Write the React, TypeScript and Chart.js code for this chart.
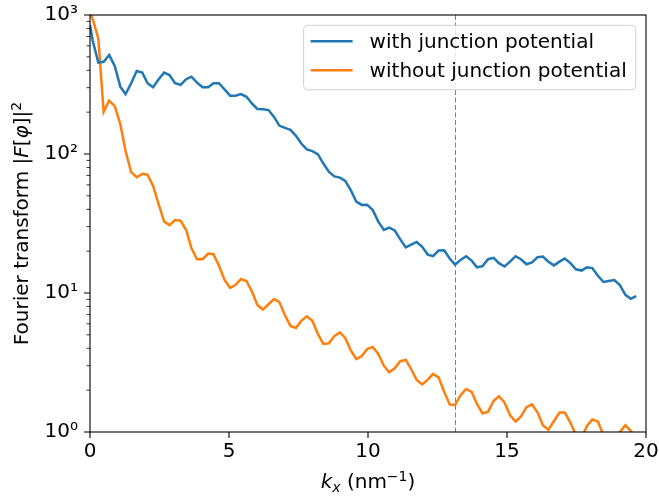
import React, { useEffect, useRef } from "react";
import { Chart, registerables } from "chart.js";

Chart.register(...registerables);

// k_x grid (nm^-1)
const KX = [
  0, 0.1, 0.3, 0.49, 0.69, 0.89, 1.09, 1.28, 1.48, 1.68, 1.88,
  2.07, 2.27, 2.47, 2.67, 2.86, 3.06, 3.26, 3.46, 3.65, 3.85,
  4.05, 4.25, 4.44, 4.64, 4.84, 5.04, 5.23, 5.43, 5.63, 5.83,
  6.02, 6.22, 6.42, 6.62, 6.81, 7.01, 7.21, 7.41, 7.6, 7.8,
  8.0, 8.2, 8.39, 8.59, 8.79, 8.99, 9.18, 9.38, 9.58, 9.78,
  9.97, 10.17, 10.37, 10.57, 10.76, 10.96, 11.16, 11.36, 11.55, 11.75,
  11.95, 12.15, 12.34, 12.54, 12.74, 12.94, 13.13, 13.33, 13.53, 13.73,
  13.92, 14.12, 14.32, 14.52, 14.71, 14.91, 15.11, 15.31, 15.5, 15.7,
  15.9, 16.1, 16.29, 16.49, 16.69, 16.89, 17.08, 17.28, 17.48, 17.68,
  17.87, 18.07, 18.27, 18.47, 18.66, 18.86, 19.06, 19.26, 19.45, 19.65,
];

const WITH_JP = [
  848, 650, 454, 461, 515, 430, 305, 270, 323, 395, 385,
  323, 302, 345, 385, 370, 323, 314, 345, 360, 326,
  302, 302, 323, 323, 292, 263, 263, 270, 258, 230,
  211, 210, 207, 185, 160, 154, 149, 135, 119, 108,
  105, 99.5, 85.7, 74.6, 69, 67.6, 64, 55, 45.4, 43,
  43.2, 39.5, 32.6, 28.4, 29.5, 28.2, 24.3, 21.3, 22.3, 23.3,
  21.5, 18.9, 18.4, 20.2, 20.3, 17.7, 16.0, 17.3, 18.4, 17.1,
  15.3, 15.6, 17.5, 17.9, 16.4, 15.5, 16.8, 18.4, 17.5, 16.1,
  16.6, 18.1, 18.3, 16.8, 15.8, 16.8, 17.7, 16.4, 14.8, 14.5,
  15.3, 15.1, 13.3, 12.0, 12.2, 12.4, 11.4, 9.7, 9.1, 9.5,
];

const WITHOUT_JP = [
  1050, 931, 679, 201, 242, 221, 164, 105, 74, 68, 72,
  71, 59, 43.5, 32.6, 30.8, 33.5, 33.1, 28.4, 21, 17.5,
  17.5, 19.2, 19, 15.7, 12.4, 10.9, 11.4, 12.6, 12.2, 10.2,
  8.2, 7.6, 8.3, 9.05, 8.6, 6.95, 5.8, 5.6, 6.3, 6.8,
  6.3, 5.07, 4.3, 4.35, 4.9, 5.2, 4.75, 3.87, 3.35, 3.52,
  3.95, 4.09, 3.64, 3.0, 2.69, 2.87, 3.23, 3.3, 2.84, 2.37,
  2.2, 2.38, 2.62, 2.47, 1.95, 1.58, 1.56, 1.84, 2.04, 1.94,
  1.59, 1.36, 1.4, 1.68, 1.81, 1.63, 1.32, 1.19, 1.29, 1.51,
  1.58, 1.38, 1.12, 1.04, 1.2, 1.38, 1.38, 1.17, 0.95, 0.9,
  1.1, 1.23, 1.19, 0.95, 0.85, 0.9, 1.0, 1.12, 1.02, 0.9,
];

const SERIES_LABELS = ["with junction potential", "without junction potential"];
const SERIES_COLORS = ["#1f77b4", "#ff7f0e"];
const X_TICKS = [0, 5, 10, 15, 20];
const Y_DECADES = [1, 10, 100, 1000];
const Y_TICK_LABELS = ["10⁰", "10¹", "10²", "10³"];
const CUTOFF_K = 13.13;

const FAMILY = '"DejaVu Sans"';
const FS = 20;
const LW = 2.5;

type Part = { t: string; italic?: boolean; sup?: boolean; sub?: boolean };

const Y_TITLE: Part[] = [
  { t: "Fourier transform |" },
  { t: "F", italic: true },
  { t: "[" },
  { t: "φ", italic: true },
  { t: "]|" },
  { t: "2", sup: true },
];
const X_TITLE: Part[] = [
  { t: "k", italic: true },
  { t: "x", italic: true, sub: true },
  { t: " (nm" },
  { t: "−1", sup: true },
  { t: ")" },
];

function partFont(p: Part) {
  const size = p.sup || p.sub ? FS * 0.7 : FS;
  return `${p.italic ? "italic " : ""}${size}px ${FAMILY}`;
}

function drawParts(ctx: CanvasRenderingContext2D, parts: Part[], cx: number, baseline: number) {
  const widths = parts.map((p) => {
    ctx.font = partFont(p);
    return ctx.measureText(p.t).width;
  });
  const total = widths.reduce((a, b) => a + b, 0);
  let x = cx - total / 2;
  ctx.textAlign = "left";
  ctx.textBaseline = "alphabetic";
  parts.forEach((p, i) => {
    ctx.font = partFont(p);
    const dy = p.sup ? -FS * 0.36 : p.sub ? FS * 0.2 : 0;
    ctx.fillText(p.t, x, baseline + dy);
    x += widths[i];
  });
}

const decor = {
  id: "decor",
  beforeDatasetsDraw(chart: any) {
    const { ctx, chartArea: a, scales } = chart;
    const x = Math.round(scales.x.getPixelForValue(CUTOFF_K)) + 0.5;
    ctx.save();
    ctx.strokeStyle = "#7f7f7f";
    ctx.lineWidth = 1;
    ctx.setLineDash([5, 2.5]);
    ctx.beginPath();
    ctx.moveTo(x, a.top);
    ctx.lineTo(x, a.bottom);
    ctx.stroke();
    ctx.restore();
  },
  afterDraw(chart: any) {
    const { ctx, chartArea: a, scales } = chart;
    ctx.save();
    // frame
    ctx.strokeStyle = "#000";
    ctx.lineWidth = 1.1;
    ctx.strokeRect(a.left, a.top, a.right - a.left, a.bottom - a.top);
    // x ticks
    ctx.beginPath();
    X_TICKS.forEach((v) => {
      const px = scales.x.getPixelForValue(v);
      ctx.moveTo(px, a.bottom);
      ctx.lineTo(px, a.bottom + 6);
    });
    // y major ticks
    Y_DECADES.forEach((v) => {
      const py = scales.y.getPixelForValue(v);
      ctx.moveTo(a.left, py);
      ctx.lineTo(a.left - 6, py);
    });
    ctx.stroke();
    // y minor ticks
    ctx.beginPath();
    ctx.lineWidth = 0.8;
    for (let d = 0; d < Y_DECADES.length - 1; d++) {
      for (let m = 2; m <= 9; m++) {
        const py = scales.y.getPixelForValue(Y_DECADES[d] * m);
        ctx.moveTo(a.left, py);
        ctx.lineTo(a.left - 3.5, py);
      }
    }
    ctx.stroke();

    // axis titles
    ctx.fillStyle = "#000";
    drawParts(ctx, X_TITLE, (a.left + a.right) / 2, 488);
    ctx.save();
    ctx.translate(28, (a.top + a.bottom) / 2);
    ctx.rotate(-Math.PI / 2);
    drawParts(ctx, Y_TITLE, 0, 0);
    ctx.restore();

    // legend
    ctx.font = `${FS}px ${FAMILY}`;
    const textW = Math.max(...SERIES_LABELS.map((s) => ctx.measureText(s).width));
    const padL = 7, lineLen = 42, gap = 17, padR = 9;
    const w = padL + lineLen + gap + textW + padR;
    const h = 64.5;
    const right = a.right - 10.3;
    const top = a.top + 10.3;
    const left = right - w;
    const r = 4;
    ctx.beginPath();
    ctx.moveTo(left + r, top);
    ctx.arcTo(left + w, top, left + w, top + h, r);
    ctx.arcTo(left + w, top + h, left, top + h, r);
    ctx.arcTo(left, top + h, left, top, r);
    ctx.arcTo(left, top, left + w, top, r);
    ctx.closePath();
    ctx.fillStyle = "rgba(255,255,255,0.8)";
    ctx.fill();
    ctx.strokeStyle = "#d0d0d0";
    ctx.lineWidth = 1;
    ctx.stroke();
    SERIES_LABELS.forEach((label, i) => {
      const y = top + 16 + i * 29;
      ctx.strokeStyle = SERIES_COLORS[i];
      ctx.lineWidth = LW;
      ctx.beginPath();
      ctx.moveTo(left + padL, y);
      ctx.lineTo(left + padL + lineLen, y);
      ctx.stroke();
      ctx.fillStyle = "#000";
      ctx.font = `${FS}px ${FAMILY}`;
      ctx.textAlign = "left";
      ctx.textBaseline = "middle";
      ctx.fillText(label, left + padL + lineLen + gap, y + 1);
    });
    ctx.restore();
  },
};

export default function App() {
  const ref = useRef<HTMLCanvasElement | null>(null);
  useEffect(() => {
    if (!ref.current) return;
    const series = [WITH_JP, WITHOUT_JP];
    const chart = new Chart(ref.current, {
      type: "line",
      data: {
        datasets: series.map((vals, i) => ({
          label: SERIES_LABELS[i],
          data: KX.map((x, j) => ({ x, y: vals[j] })),
          borderColor: SERIES_COLORS[i],
          backgroundColor: SERIES_COLORS[i],
          borderWidth: LW,
          pointRadius: 0,
          tension: 0,
          fill: false,
        })),
      },
      options: {
        responsive: false,
        animation: false,
        events: [],
        layout: { padding: { top: 15, right: 13, left: 0, bottom: 0 } },
        plugins: { legend: { display: false }, tooltip: { enabled: false }, title: { display: false } },
        scales: {
          x: {
            type: "linear",
            min: 0,
            max: 20,
            afterBuildTicks: (s: any) => {
              s.ticks = X_TICKS.map((v) => ({ value: v }));
            },
            ticks: {
              font: { family: "DejaVu Sans", size: FS },
              color: "#000",
              padding: 8,
              maxRotation: 0,
              autoSkip: false,
              callback: (v: any) => String(v),
            },
            grid: { display: false, drawTicks: false },
            border: { display: false },
            afterFit: (s: any) => {
              s.height = 68;
              s.paddingLeft = 0;
              s.paddingRight = 0;
            },
          },
          y: {
            type: "logarithmic",
            min: 1,
            max: 1000,
            afterBuildTicks: (s: any) => {
              s.ticks = Y_DECADES.map((v) => ({ value: v }));
            },
            ticks: {
              font: { family: "DejaVu Sans", size: FS },
              color: "#000",
              padding: 12,
              autoSkip: false,
              callback: (v: any) => {
                const i = Y_DECADES.indexOf(Number(v));
                return i >= 0 ? Y_TICK_LABELS[i] : "";
              },
            },
            grid: { display: false, drawTicks: false },
            border: { display: false },
            afterFit: (s: any) => {
              s.width = 90;
              s.paddingTop = 0;
              s.paddingBottom = 0;
            },
          },
        },
      },
      plugins: [decor],
    });
    return () => chart.destroy();
  }, []);
  return (
    <div style={{ position: "fixed", left: 0, top: 0, width: 659, height: 500, background: "#fff" }}>
      <canvas ref={ref} width={659} height={500} style={{ display: "block" }} />
    </div>
  );
}
